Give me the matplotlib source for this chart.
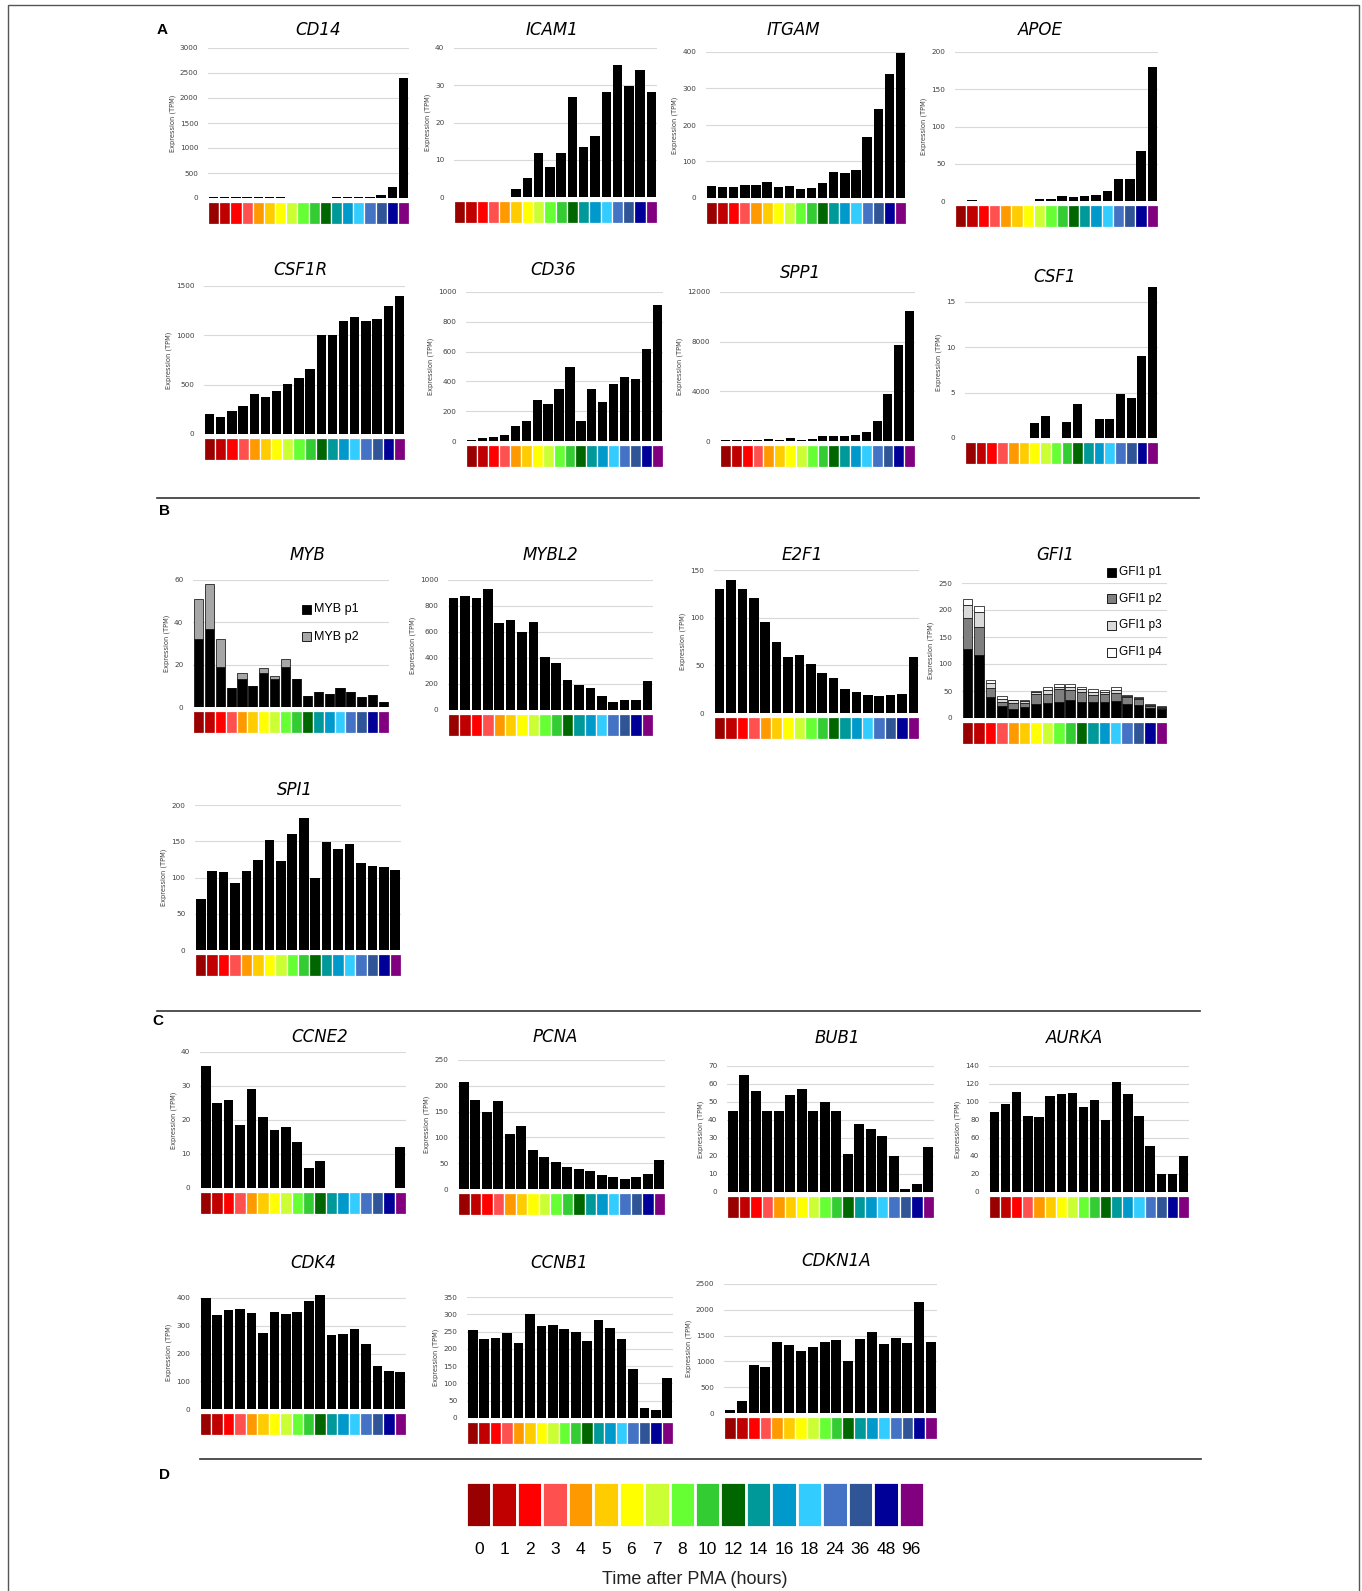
import matplotlib
matplotlib.use("Agg")
import matplotlib.pyplot as plt
from matplotlib.patches import Rectangle
from matplotlib.lines import Line2D
import numpy as np

W, H = 1362, 1591

# time points and their colour key
hours = ["0", "1", "2", "3", "4", "5", "6", "7", "8", "10", "12", "14", "16", "18", "24", "36", "48", "96"]
time_colors = ["#990000", "#C00000", "#FF0000", "#FF5050", "#FF9900", "#FFCC00",
               "#FFFF00", "#CCFF33", "#66FF33", "#33CC33", "#006600", "#009999",
               "#0099CC", "#33CCFF", "#4472C4", "#2F5597", "#000099", "#800080"]

# A - macrophage markers
cd14 = [20, 20, 20, 20, 20, 12, 12, 0, 0, 0, 0, 12, 12, 12, 25, 55, 220, 2400]
icam1 = [0, 0, 0, 0, 0, 2.2, 5.2, 11.8, 8, 11.7, 26.8, 13.3, 16.5, 28.2, 35.5, 29.8, 34.2, 28.3]
itgam = [33, 29, 29, 36, 36, 43, 31, 34, 24, 27, 40, 70, 69, 77, 168, 245, 340, 398]
apoe = [0, 2, 0, 0, 0, 0, 0, 3, 3, 7, 6, 6.5, 8, 13, 29, 30, 67, 180]
csf1r = [200, 170, 230, 280, 410, 370, 440, 510, 570, 660, 1000, 1000, 1150, 1190, 1150, 1170, 1300, 1400]
cd36 = [10, 20, 30, 40, 100, 135, 275, 250, 350, 495, 135, 350, 260, 380, 430, 415, 615, 915]
spp1 = [100, 60, 50, 60, 200, 120, 250, 120, 150, 400, 400, 400, 500, 700, 1600, 3750, 7700, 10500]
csf1 = [0, 0, 0, 0, 0, 0, 1.6, 2.4, 0, 1.8, 3.8, 0, 2.1, 2.1, 4.9, 4.4, 9.0, 16.6]

# B - transcription factors
myb_p1 = [32, 37, 19, 9, 13, 10, 16, 13, 19, 13, 5, 7, 6, 9, 7, 4.5, 5.5, 2.5]
myb_p2 = [19, 21, 13, 0, 3, 0, 2.5, 1.5, 3.5, 0, 0, 0, 0, 0, 0, 0, 0, 0]
mybl2 = [865, 880, 865, 930, 670, 695, 600, 680, 410, 365, 230, 195, 170, 105, 65, 75, 80, 220]
e2f1 = [130, 140, 130, 121, 95, 75, 59, 61, 51, 42, 37, 25, 22, 19, 18, 19, 20, 59]
gfi1_p1 = [128, 117, 38, 22, 17, 20, 26, 28, 29, 33, 30, 29, 29, 31, 26, 24, 18, 16]
gfi1_p2 = [58, 51, 18, 8, 11, 8, 18, 17, 24, 19, 18, 13, 15, 15, 12, 11, 4, 3]
gfi1_p3 = [24, 29, 9, 6, 5, 4, 4, 7, 5, 6, 5, 6, 4, 6, 3, 2, 2, 2]
gfi1_p4 = [10, 11, 5, 4, 1, 2, 2, 6, 5, 5, 5, 5, 4, 6, 2, 1, 2, 1]
spi1 = [70, 109, 107, 92, 109, 124, 152, 123, 160, 182, 99, 149, 139, 146, 120, 116, 115, 110]

# C - cell cycle
ccne2 = [36, 25, 26, 18.5, 29, 21, 17, 18, 13.5, 6, 8, 0, 0, 0, 0, 0, 0, 12]
pcna = [207, 173, 150, 171, 107, 122, 76, 62, 52, 43, 39, 34, 28, 23, 19, 23, 29, 57]
bub1 = [45, 65, 56, 45, 45, 54, 57, 45, 50, 45, 21, 38, 35, 31, 20, 1.5, 4.5, 25]
aurka = [89, 98, 111, 85, 83, 107, 109, 110, 94, 102, 80, 122, 109, 85, 51, 20, 20, 40]
cdk4 = [400, 340, 355, 360, 345, 275, 350, 342, 350, 390, 410, 265, 272, 287, 235, 155, 137, 132]
ccnb1 = [255, 228, 231, 246, 218, 302, 267, 270, 257, 249, 222, 283, 260, 228, 141, 28, 22, 117]
cdkn1a = [60, 240, 930, 900, 1370, 1310, 1210, 1285, 1380, 1420, 1005, 1430, 1570, 1330, 1450, 1350, 2150, 1370]

myb_labels = ["MYB p1", "MYB p2"]
myb_colors = ["black", "#a6a6a6"]
gfi1_labels = ["GFI1 p1", "GFI1 p2", "GFI1 p3", "GFI1 p4"]
gfi1_colors = ["black", "#7f7f7f", "#d9d9d9", "white"]

fig = plt.figure(figsize=(W / 100, H / 100), dpi=100)
x = np.arange(len(hours))


def frac(px, py):
    return px / W, 1 - py / H


def color_strip(ax):
    ax.bar(x, np.ones(len(hours)), width=1.0, color=time_colors, edgecolor="white", linewidth=0.9)
    ax.set_xlim(-0.5, len(hours) - 0.5)
    ax.set_ylim(0, 1)
    ax.axis("off")


def panel(title, series, x0, x1, y0, yt, vt, step, title_xy, colors=None):
    # y0: pixel of zero, yt: pixel of tick value vt
    tot = np.sum(series, axis=0)
    vmax = max(vt, tot.max())
    ytop = y0 - vmax / vt * (y0 - yt)
    ax = fig.add_axes([x0 / W, 1 - y0 / H, (x1 - x0) / W, (y0 - ytop) / H])
    bottom = np.zeros(len(hours))
    if colors is None:
        colors = ["black"]
    for s, c in zip(series, colors):
        s = np.array(s, dtype=float)
        ec = "black" if len(series) > 1 else "none"
        ax.bar(x, s, bottom=bottom, width=0.84, color=c, edgecolor=ec, linewidth=0.5, zorder=3)
        bottom += s
    ax.set_xlim(-0.5, len(hours) - 0.5)
    ax.set_ylim(0, vmax)
    ax.set_yticks(np.arange(0, vt + step / 2, step))
    ax.yaxis.grid(True, color="#d9d9d9", lw=0.8, zorder=0)
    ax.set_xticks([])
    for sp in ax.spines.values():
        sp.set_visible(False)
    ax.tick_params(axis="y", length=0, labelsize=5.2, labelcolor="#404040", pad=7)
    ax.set_ylabel("Expression (TPM)", fontsize=4.8, color="#404040", labelpad=3)
    # colour key strip under the bars
    sa = fig.add_axes([x0 / W, 1 - (y0 + 26) / H, (x1 - x0) / W, 22 / H])
    color_strip(sa)
    tx, ty = frac(*title_xy)
    fig.text(tx, ty, title, fontsize=12, style="italic", ha="center", va="center")
    return ax


def key_legend(labels, colors, sx, rows, size, fs):
    for lab, c, ry in zip(labels, colors, rows):
        fig.add_artist(Rectangle((sx / W, 1 - (ry + size / 2) / H), size / W, size / H,
                                 fc=c, ec="black", lw=0.6, transform=fig.transFigure))
        fig.text((sx + size + 3) / W, 1 - ry / H, lab, fontsize=fs, va="center",
                 family="Liberation Sans")


# A
panel("CD14", [cd14], 208, 409, 198, 48, 3000, 500, (318, 30))
panel("ICAM1", [icam1], 454, 657, 197, 48, 40, 10, (552, 30))
panel("ITGAM", [itgam], 706, 906, 198, 52, 400, 100, (793, 30))
panel("APOE", [apoe], 955, 1158, 201, 52, 200, 50, (1040, 30))
panel("CSF1R", [csf1r], 204, 405, 434, 286, 1500, 500, (300, 270))
panel("CD36", [cd36], 466, 663, 441, 292, 1000, 200, (553, 270))
panel("SPP1", [spp1], 720, 915, 441, 292, 12000, 4000, (800, 273))
panel("CSF1", [csf1], 965, 1158, 438, 302, 15, 5, (1055, 277))

# B
panel("MYB", [myb_p1, myb_p2], 193, 389, 707, 580, 60, 20, (307, 555), colors=myb_colors)
key_legend(myb_labels, myb_colors, 302, [609, 637], 9, 9)
panel("MYBL2", [mybl2], 448, 653, 710, 580, 1000, 200, (550, 555))
panel("E2F1", [e2f1], 714, 919, 713, 570, 150, 50, (802, 555))
panel("GFI1", [gfi1_p1, gfi1_p2, gfi1_p3, gfi1_p4], 962, 1167, 718, 583, 250, 50,
      (1055, 555), colors=gfi1_colors)
key_legend(gfi1_labels, gfi1_colors, 1107, [572, 599, 625, 652], 9, 8.5)
panel("SPI1", [spi1], 195, 401, 950, 805, 200, 50, (295, 790))

# C
panel("CCNE2", [ccne2], 200, 406, 1188, 1052, 40, 10, (320, 1037))
panel("PCNA", [pcna], 458, 665, 1189, 1060, 250, 50, (555, 1037))
panel("BUB1", [bub1], 727, 934, 1192, 1066, 70, 10, (837, 1038))
panel("AURKA", [aurka], 989, 1189, 1192, 1066, 140, 20, (1075, 1038))
panel("CDK4", [cdk4], 200, 406, 1409, 1298, 400, 100, (313, 1263))
panel("CCNB1", [ccnb1], 467, 673, 1418, 1297, 350, 50, (559, 1263))
panel("CDKN1A", [cdkn1a], 724, 937, 1413, 1284, 2500, 500, (836, 1261))

# D - colour key
kx0, kx1, ky0, ky1 = 466, 924, 1482, 1527
ka = fig.add_axes([kx0 / W, 1 - ky1 / H, (kx1 - kx0) / W, (ky1 - ky0) / H])
ka.bar(x, np.ones(len(hours)), width=1.0, color=time_colors, edgecolor="white", linewidth=2)
ka.set_xlim(-0.5, len(hours) - 0.5)
ka.set_ylim(0, 1)
ka.axis("off")
for i, h in enumerate(hours):
    px = kx0 + (i + 0.5) * (kx1 - kx0) / len(hours)
    fig.text(px / W, 1 - 1549 / H, h, fontsize=12.5, ha="center", va="center",
             family="Liberation Sans")
fig.text(((kx0 + kx1) / 2) / W, 1 - 1580 / H, "Time after PMA (hours)", fontsize=13,
         ha="center", va="center", family="Liberation Sans", color="#222222")

# section letters
for lab, (lx, ly) in zip("ABCD", [(162, 30), (165, 511), (158, 1021), (165, 1475)]):
    fx, fy = frac(lx, ly)
    fig.text(fx, fy, lab, fontsize=11, weight="bold", ha="center", va="center",
             family="Liberation Sans")

# separators and outer frame
for (sx0, sx1, sy) in [(157, 1199, 498), (157, 1200, 1011), (200, 1201, 1459)]:
    fig.add_artist(Line2D([sx0 / W, sx1 / W], [1 - sy / H, 1 - sy / H], color="#333333", lw=1.2))
fig.add_artist(Rectangle((8 / W, -0.01), (1359 - 8) / W, 1.01 - 5 / H, fill=False,
                         ec="#555555", lw=1.0, transform=fig.transFigure))

fig.savefig("out.png", dpi=100, facecolor="white")
